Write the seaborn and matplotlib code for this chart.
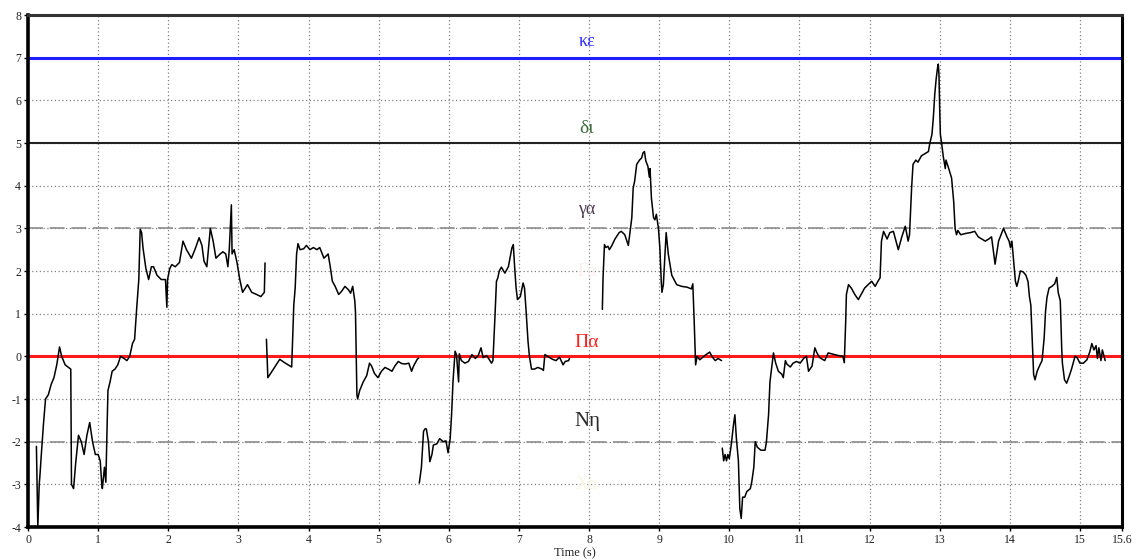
import numpy as np
import pandas as pd
import seaborn as sns
import matplotlib.pyplot as plt

# ---------------- data ----------------
seg1_t = [0.12, 0.14, 0.16, 0.17, 0.19, 0.22, 0.25, 0.29, 0.33, 0.37, 0.41, 0.45, 0.48, 0.53, 0.57, 0.61,
          0.62, 0.65, 0.68, 0.72, 0.76, 0.80, 0.84, 0.88, 0.92, 0.96, 1.00, 1.03, 1.05, 1.06, 1.09, 1.11,
          1.13, 1.14, 1.17, 1.20, 1.24, 1.28, 1.32, 1.37, 1.41, 1.45, 1.49, 1.52, 1.55, 1.58, 1.60, 1.62,
          1.64, 1.68, 1.72, 1.76, 1.79, 1.84, 1.90, 1.96, 1.98, 1.99, 2.02, 2.05, 2.10, 2.16, 2.21, 2.26,
          2.33, 2.38, 2.44, 2.48, 2.51, 2.55, 2.60, 2.64, 2.68, 2.74, 2.78, 2.82, 2.85, 2.87, 2.90, 2.91,
          2.94, 2.98, 3.02, 3.06, 3.13, 3.19, 3.26, 3.32, 3.37, 3.38]
seg1_v = [-2.11, -4.0, -3.0, -2.8, -2.3, -1.6, -1.0, -0.9, -0.66, -0.5, -0.2, 0.22, 0.0, -0.2, -0.25, -0.3,
          -3.0, -3.1, -2.5, -1.85, -2.0, -2.3, -1.85, -1.55, -2.0, -2.3, -2.3, -2.45, -2.95, -3.1, -2.6, -2.95,
          -1.5, -0.8, -0.6, -0.35, -0.3, -0.2, 0.0, -0.05, -0.1, 0.0, 0.3, 0.4, 1.13, 1.8, 2.98, 2.9,
          2.54, 2.07, 1.8, 2.1, 2.1, 1.9, 1.8, 1.8, 1.15, 1.8, 2.05, 2.15, 2.1, 2.2, 2.7, 2.5,
          2.3, 2.5, 2.78, 2.6, 2.23, 2.1, 3.0, 2.7, 2.3, 2.4, 2.45, 2.4, 2.1, 2.5, 3.55, 2.4,
          2.5, 2.2, 1.8, 1.5, 1.68, 1.5, 1.45, 1.4, 1.5, 2.19]

seg2_t = [3.40, 3.42, 3.46, 3.59, 3.66, 3.76, 3.79, 3.81, 3.83, 3.85, 3.88, 3.93, 3.97, 4.02, 4.07, 4.12,
          4.16, 4.22, 4.28, 4.31, 4.34, 4.38, 4.43, 4.47, 4.52, 4.57, 4.60, 4.63, 4.66, 4.67, 4.69, 4.70,
          4.73, 4.78, 4.83, 4.87, 4.90, 4.94, 4.99, 5.04, 5.09, 5.14, 5.19, 5.23, 5.28, 5.33, 5.38, 5.43,
          5.47, 5.50, 5.55, 5.57]
seg2_v = [0.4, -0.5, -0.4, -0.07, -0.15, -0.25, 1.2, 1.6, 2.4, 2.64, 2.5, 2.52, 2.6, 2.5, 2.55, 2.5,
          2.55, 2.3, 2.4, 2.1, 1.76, 1.64, 1.45, 1.52, 1.64, 1.56, 1.48, 1.64, 1.3, 1.03, -0.9, -1.0,
          -0.8, -0.6, -0.45, -0.16, -0.23, -0.4, -0.5, -0.35, -0.26, -0.3, -0.35, -0.23, -0.12, -0.17, -0.18, -0.16,
          -0.35, -0.22, -0.07, -0.04]

seg3_t = [5.58, 5.61, 5.64, 5.66, 5.68, 5.71, 5.73, 5.76, 5.78, 5.83, 5.87, 5.92, 5.96, 5.99, 6.02, 6.04,
          6.06, 6.09, 6.11, 6.14, 6.15, 6.18, 6.23, 6.28, 6.33, 6.38, 6.42, 6.46, 6.49, 6.54, 6.61, 6.63,
          6.66, 6.68, 6.70, 6.72, 6.75, 6.80, 6.85, 6.90, 6.92, 6.94, 6.96, 6.98, 7.02, 7.06, 7.08, 7.10,
          7.13, 7.15, 7.18, 7.22, 7.27, 7.33, 7.35, 7.37, 7.43, 7.48, 7.53, 7.58, 7.63, 7.66, 7.71, 7.72]
seg3_v = [-2.97, -2.6, -1.76, -1.7, -1.7, -2.0, -2.47, -2.3, -2.08, -2.05, -1.93, -2.0, -1.98, -2.26, -1.93, -1.37,
          -0.6, 0.12, 0.04, -0.6, 0.06, -0.1, -0.16, -0.12, 0.04, -0.05, 0.02, 0.2, -0.03, 0.02, -0.16, -0.1,
          0.98, 1.76, 1.84, 2.0, 2.09, 1.95, 2.1, 2.54, 2.62, 2.08, 1.6, 1.33, 1.4, 1.72, 1.6, 1.13,
          0.35, 0.0, -0.3, -0.3, -0.26, -0.3, -0.33, 0.04, -0.02, -0.07, -0.1, -0.02, -0.2, -0.12, -0.1, -0.05]

seg4_t = [8.19, 8.20, 8.22, 8.24, 8.27, 8.29, 8.32, 8.37, 8.43, 8.46, 8.51, 8.56, 8.58, 8.61, 8.63, 8.65,
          8.68, 8.72, 8.75, 8.77, 8.79, 8.81, 8.84, 8.86, 8.87, 8.89, 8.92, 8.94, 8.96, 8.99, 9.01, 9.03,
          9.04, 9.06, 9.08, 9.10, 9.13, 9.18, 9.25, 9.32, 9.40, 9.46, 9.48, 9.50, 9.52, 9.54, 9.58, 9.66,
          9.72, 9.76, 9.80, 9.84, 9.89]
seg4_v = [1.1, 1.84, 2.62, 2.55, 2.58, 2.5, 2.58, 2.75, 2.9, 2.93, 2.85, 2.6, 2.85, 3.25, 3.95, 4.1,
          4.5, 4.6, 4.65, 4.77, 4.8, 4.58, 4.45, 4.2, 4.4, 3.7, 3.25, 3.2, 3.33, 3.0, 2.54, 1.76,
          1.5, 1.68, 2.3, 2.9, 2.4, 1.9, 1.68, 1.64, 1.62, 1.58, 1.7, 0.8, -0.2, 0.0, -0.08, 0.03,
          0.1, -0.02, -0.1, -0.05, -0.1]

seg5_t = [9.90, 9.92, 9.94, 9.96, 9.98, 10.00, 10.03, 10.06, 10.08, 10.10, 10.13, 10.15, 10.17, 10.19, 10.22, 10.25,
          10.30, 10.32, 10.35, 10.37, 10.40, 10.45, 10.51, 10.53, 10.56, 10.58, 10.63, 10.66, 10.70, 10.75, 10.77, 10.80,
          10.82, 10.87, 10.91, 10.96, 11.01, 11.06, 11.10, 11.13, 11.18, 11.22, 11.25, 11.29, 11.36, 11.41, 11.48, 11.55,
          11.62, 11.64, 11.66, 11.67, 11.70, 11.74, 11.79, 11.84, 11.88, 11.93, 11.98, 12.03, 12.08, 12.12, 12.15, 12.17,
          12.20, 12.25, 12.29, 12.34, 12.41, 12.46, 12.51, 12.55, 12.57, 12.60, 12.62, 12.66, 12.69, 12.74, 12.79, 12.84,
          12.86, 12.89, 12.91, 12.93, 12.95, 12.97, 12.98, 12.99, 13.00, 13.01, 13.03, 13.05, 13.08, 13.09, 13.12, 13.17,
          13.20, 13.22, 13.24, 13.26, 13.30, 13.37, 13.44, 13.50, 13.55, 13.60, 13.65, 13.70, 13.74, 13.79, 13.84, 13.91,
          13.96, 13.99, 14.01, 14.03, 14.06, 14.08, 14.10, 14.12, 14.15, 14.19, 14.23, 14.26, 14.28, 14.30, 14.33, 14.34,
          14.36, 14.39, 14.43, 14.46, 14.49, 14.51, 14.53, 14.56, 14.60, 14.64, 14.67, 14.69, 14.72, 14.74, 14.75, 14.78,
          14.81, 14.84, 14.88, 14.93, 14.96, 15.00, 15.05, 15.10, 15.14, 15.17, 15.20, 15.23, 15.25, 15.27, 15.30, 15.32,
          15.36]
seg5_v = [-2.15, -2.45, -2.3, -2.45, -2.3, -2.4, -2.05, -1.6, -1.37, -1.9, -2.45, -3.56, -3.8, -3.3, -3.3, -3.17,
          -3.1, -2.95, -2.6, -2.0, -2.13, -2.2, -2.2, -2.0, -1.37, -0.6, 0.08, -0.15, -0.35, -0.42, -0.5, -0.1,
          -0.18, -0.25, -0.16, -0.12, -0.16, -0.05, 0.0, -0.35, -0.23, 0.2, 0.08, -0.03, -0.1, 0.08, 0.05, 0.02,
          0.0, -0.15, 0.82, 1.45, 1.68, 1.6, 1.45, 1.33, 1.45, 1.6, 1.68, 1.76, 1.64, 1.76, 1.84, 2.7,
          2.93, 2.75, 2.9, 2.93, 2.5, 2.8, 3.05, 2.7, 2.85, 3.95, 4.5, 4.6, 4.55, 4.7, 4.75, 4.8,
          5.0, 5.2, 5.6, 6.14, 6.5, 6.77, 6.85, 6.6, 5.83, 5.2, 4.97, 4.7, 4.4, 4.6, 4.45, 4.18,
          3.63, 3.0, 2.85, 2.95, 2.85, 2.88, 2.9, 2.93, 2.8, 2.75, 2.7, 2.75, 2.8, 2.16, 2.7, 3.0,
          2.8, 2.7, 2.55, 2.7, 2.15, 1.76, 1.64, 1.76, 2.0, 1.98, 1.9, 1.75, 1.4, 1.2, 0.0, -0.43,
          -0.55, -0.35, -0.2, -0.1, 0.43, 1.06, 1.38, 1.6, 1.64, 1.7, 1.85, 1.5, 1.3, 0.2, -0.16, -0.55,
          -0.63, -0.5, -0.3, 0.0, -0.03, -0.16, -0.16, -0.08, 0.1, 0.3, 0.15, 0.25, -0.05, 0.2, -0.1, 0.15,
          -0.1]

level_values = [7, 5, 3, 0, -2]
level_labels = ["κε", "δι", "γα", "Πα", "Nη"]
faint_values = [2, -3]
faint_labels = ["Γα", "Χα"]

xtick_values = list(range(16)) + [15.6]
xtick_labels = [str(i) for i in range(16)] + ["15.6"]
ytick_values = list(range(-4, 9))
ytick_labels = [("-" + str(-v)) if v < 0 else str(v) for v in ytick_values]

# ---------------- build frame ----------------
segs = [(seg1_t, seg1_v), (seg2_t, seg2_v), (seg3_t, seg3_v), (seg4_t, seg4_v), (seg5_t, seg5_v)]
frames = []
for i, (tt, vv) in enumerate(segs):
    frames.append(pd.DataFrame({"t": tt, "v": vv, "seg": i}))
df = pd.concat(frames, ignore_index=True)

# ---------------- plot ----------------
sns.set_theme(style="white")
plt.rcParams["font.family"] = ["Liberation Serif", "DejaVu Serif"]

fig = plt.figure(figsize=(11.37, 5.6), dpi=100)
ax = fig.add_axes([28 / 1137, 33 / 560, 1094 / 1137, 512 / 560])
ax.set_xlim(0, 15.6)
ax.set_ylim(-4, 8)

ax.set_xticks(xtick_values)
ax.set_xticklabels(xtick_labels, fontsize=8.5)
ax.set_yticks(ytick_values)
ax.set_yticklabels(ytick_labels, fontsize=8.5)
ax.tick_params(axis="both", which="both", bottom=True, left=True, direction="out",
               length=3, width=1, color="black", pad=2, labelcolor="#222222")

ax.grid(True, linestyle=(0, (1, 2)), color="#808080", linewidth=0.9)
ax.set_axisbelow(True)

level_styles = [
    dict(color="#1e1eff", lw=2.2, ls="-"),
    dict(color="#222222", lw=1.5, ls="-"),
    dict(color="#8c8c8c", lw=1.2, ls=(0, (9, 4))),
    dict(color="#ff1a1a", lw=2.2, ls="-"),
    dict(color="#8c8c8c", lw=1.2, ls=(0, (9, 4))),
]
label_colors = ["#2a2aff", "#3f6e3f", "#4a3a4a", "#ff2020", "#2a2a2a"]
label_offsets = [0.17, 0.14, 0.24, 0.12, 0.24]
label_sizes = [13, 14, 13, 14, 15]
for val, lab, st, col, off, fs in zip(level_values, level_labels, level_styles,
                                      label_colors, label_offsets, label_sizes):
    ax.axhline(val, zorder=1.5, **st)
    ax.text(7.97, val + off, lab, color=col, fontsize=fs, ha="center", va="bottom")

for val, lab, col in zip(faint_values, faint_labels, ["#faeeee", "#f9f6e4"]):
    ax.text(7.97, val + 0.0, lab, color=col, fontsize=13, ha="center", va="center")

sns.lineplot(data=df, x="t", y="v", units="seg", estimator=None, sort=False,
             color="black", linewidth=1.1, ax=ax, legend=False, zorder=3)

ax.set_xlabel("Time (s)", fontsize=9, labelpad=1, color="#222222")
ax.set_ylabel("")

for side, lw, col in [("left", 2.6, "black"), ("bottom", 2.6, "black"),
                      ("top", 2.2, "#333333"), ("right", 2.2, "black")]:
    ax.spines[side].set_visible(True)
    ax.spines[side].set_linewidth(lw)
    ax.spines[side].set_color(col)

fig.savefig("out.png", dpi=100)
